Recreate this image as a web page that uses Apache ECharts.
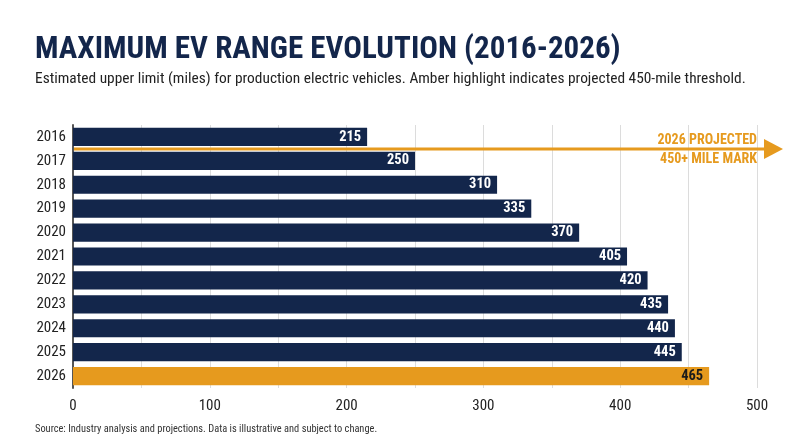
<!DOCTYPE html>
<html lang="en">

<head>
    <meta charset="UTF-8">
    <title>Maximum EV Range Evolution</title>
    <script type="text/javascript" src="https://cdn.jsdelivr.net/npm/echarts@6/dist/echarts.min.js"></script>
    <style>
        html,
        body {
            margin: 0;
            padding: 0;
            width: 100%;
            height: 100%;
            background: #fff;
        }

        #container {
            width: 800px;
            height: 447px;
        }
    </style>
</head>

<body>
    <div id="container"></div>
    <script>
        const years = ['2016', '2017', '2018', '2019', '2020', '2021', '2022', '2023', '2024', '2025', '2026'];
        const maxRange = [215, 250, 310, 335, 370, 405, 420, 435, 440, 445, 465];
        const xTicks = [0, 100, 200, 300, 400, 500];
        const highlightYear = '2026';

        const NAVY = '#13264b';
        const AMBER = '#e69a1e';
        const FONT = "'Roboto Condensed', 'Liberation Sans Narrow', 'DejaVu Sans Condensed', Roboto, sans-serif";

        let chart = echarts.init(document.getElementById('container'));

        let barData = maxRange.map((v, i) => {
            let hot = years[i] === highlightYear;
            return {
                value: v,
                itemStyle: { color: hot ? AMBER : NAVY },
                label: { color: hot ? '#1b1b1b' : '#fff' },
            };
        });

        let option = {
            animation: false,
            textStyle: { fontFamily: FONT },
            title: [{
                    text: 'MAXIMUM EV RANGE EVOLUTION (2016-2026)',
                    left: 30,
                    top: 30,
                    textStyle: {
                        fontFamily: FONT,
                        fontSize: 31,
                        fontWeight: 'bold',
                        color: NAVY,
                    },
                },
                {
                    text: 'Estimated upper limit (miles) for production electric vehicles. Amber highlight indicates projected 450-mile threshold.',
                    left: 30,
                    top: 67,
                    textStyle: {
                        fontFamily: FONT,
                        fontSize: 15.4,
                        fontWeight: 'normal',
                        color: '#222',
                    },
                },
                {
                    text: 'Source: Industry analysis and projections. Data is illustrative and subject to change.',
                    left: 30,
                    top: 419,
                    textStyle: {
                        fontFamily: FONT,
                        fontSize: 10.4,
                        fontWeight: 'normal',
                        color: '#333',
                    },
                },
            ],
            grid: {
                left: 73,
                right: 43,
                top: 125,
                bottom: 59,
            },
            xAxis: {
                type: 'value',
                min: 0,
                max: 500,
                interval: 50,
                axisLine: { show: false },
                axisTick: { show: false },
                splitLine: { lineStyle: { color: '#dcdcdc', width: 1 } },
                axisLabel: {
                    color: '#222',
                    fontSize: 15,
                    margin: 11,
                    formatter: v => xTicks.includes(v) ? String(v) : '',
                },
            },
            yAxis: {
                type: 'category',
                data: years,
                inverse: true,
                axisLine: { show: true, lineStyle: { color: '#555', width: 2 } },
                axisTick: { show: false },
                axisLabel: { color: '#222', fontSize: 15, margin: 7 },
            },
            series: [{
                type: 'bar',
                data: barData,
                barCategoryGap: '24%',
                label: {
                    show: true,
                    position: 'insideRight',
                    fontFamily: FONT,
                    fontSize: 14.5,
                    fontWeight: 'bold',
                    distance: 6,
                },
            }],
            graphic: [{
                    type: 'line',
                    shape: { x1: 74, y1: 149, x2: 768, y2: 149 },
                    style: { stroke: AMBER, lineWidth: 3 },
                    z: 100,
                },
                {
                    type: 'polygon',
                    shape: { points: [[764, 139], [783, 149], [764, 159]] },
                    style: { fill: AMBER },
                    z: 100,
                },
                {
                    type: 'text',
                    right: 43,
                    top: 133,
                    style: {
                        text: '2026 PROJECTED',
                        fill: AMBER,
                        font: "bold 14px " + FONT,
                    },
                    z: 100,
                },
                {
                    type: 'text',
                    right: 43,
                    top: 152,
                    style: {
                        text: '450+ MILE MARK',
                        fill: AMBER,
                        font: "bold 14px " + FONT,
                    },
                    z: 100,
                },
            ],
        };

        chart.setOption(option);
    </script>
</body>

</html>
